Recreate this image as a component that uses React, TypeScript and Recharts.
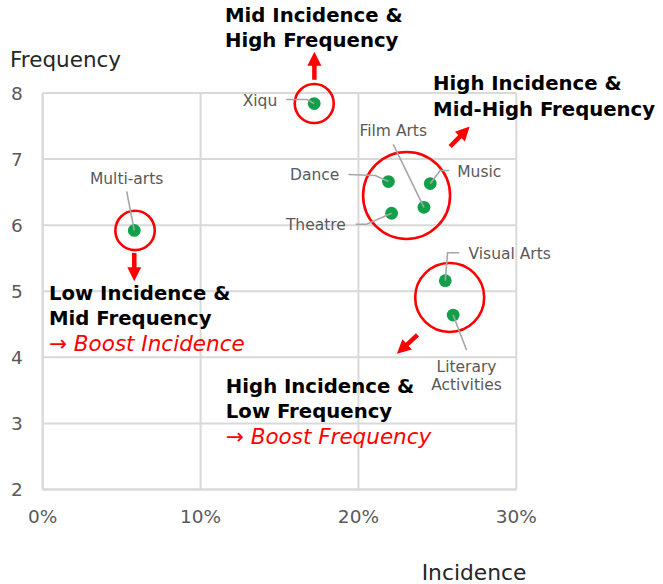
import React from 'react';
import { ScatterChart, Scatter, XAxis, YAxis, CartesianGrid, ReferenceDot, Label } from 'recharts';

// ---- data ----
const categories = ['Xiqu', 'Dance', 'Music', 'Film Arts', 'Theatre', 'Multi-arts', 'Visual Arts', 'Literary Activities'];
const incidence = [17.2, 21.9, 24.55, 24.15, 22.1, 5.8, 25.5, 26.0];
const frequency = [7.84, 6.66, 6.63, 6.27, 6.18, 5.92, 5.16, 4.64];
const xTicks = [0, 10, 20, 30];
const yTicks = [2, 3, 4, 5, 6, 7, 8];

const data = categories.map((name, i) => ({ name, x: incidence[i], y: frequency[i] }));

// ---- annotation layout (pixel offsets relative to each dot) ----
type Lay = { lines: string[]; anchor: 'start' | 'middle' | 'end'; dx: number; dy: number; leader: number[][] };
const labelLayout: Record<string, Lay> = {
  'Xiqu': { lines: ['Xiqu'], anchor: 'end', dx: -37, dy: -3.5, leader: [[-28, -4], [-7, -4]] },
  'Dance': { lines: ['Dance'], anchor: 'end', dx: -49, dy: -7.5, leader: [[-40, -7], [-13, -6]] },
  'Music': { lines: ['Music'], anchor: 'start', dx: 27, dy: -12.6, leader: [[19, -13], [10, -13]] },
  'Film Arts': { lines: ['Film Arts'], anchor: 'middle', dx: -30.7, dy: -76.6, leader: [[-30.7, -63]] },
  'Theatre': { lines: ['Theatre'], anchor: 'end', dx: -45.7, dy: 10.7, leader: [[-36, 11], [-25, 11]] },
  'Multi-arts': { lines: ['Multi-arts'], anchor: 'middle', dx: -7.6, dy: -52.4, leader: [[-7.6, -39]] },
  'Visual Arts': { lines: ['Visual Arts'], anchor: 'start', dx: 23.3, dy: -27.7, leader: [[14, -28], [2.3, -28]] },
  'Literary Activities': { lines: ['Literary', 'Activities'], anchor: 'middle', dx: 13.4, dy: 51, leader: [[13.4, 35]] },
};

// highlight circles (data coords, pixel radius)
const circleX = [17.2, 5.85, 23.05, 25.78];
const circleY = [7.84, 5.92, 6.45, 4.906];
const circleR = [19.5, 19.7, 43.5, 34.5];

// arrows: tail in data coords, vector in px
const arrowX = [17.21, 5.8, 25.81, 23.74];
const arrowY = [8.2, 5.58, 7.19, 4.34];
const arrowVec = [[0, -28], [0, 28.4], [19.5, -20], [-20.6, 19]];

// quadrant text blocks (left x, first baseline y in data coords)
type TL = { t: string; red?: boolean };
const blockX = [11.55, 24.73, 0.4, 11.6];
const blockY = [9.076, 8.04, 4.868, 3.464];
const blockLines: TL[][] = [
  [{ t: 'Mid Incidence &' }, { t: 'High Frequency' }],
  [{ t: 'High Incidence &' }, { t: 'Mid-High Frequency' }],
  [{ t: 'Low Incidence &' }, { t: 'Mid Frequency' }, { t: '\u2192 Boost Incidence', red: true }],
  [{ t: 'High Incidence &' }, { t: 'Low Frequency' }, { t: '\u2192 Boost Frequency', red: true }],
];

const FONT = "'DejaVu Sans', sans-serif";
const GRID = '#d9d9d9';
const GREEN = '#11a04a';
const RED = '#ff0000';

const DotWithLabel = (props: any) => {
  const { cx, cy, payload } = props;
  if (cx == null || cy == null || !payload) return null;
  const lay = labelLayout[payload.name];
  const pts = [...lay.leader, [0, 0]].map(([dx, dy]) => `${cx + dx},${cy + dy}`).join(' ');
  return (
    <g>
      <circle cx={cx} cy={cy} r={6.4} fill={GREEN} />
      <polyline points={pts} fill="none" stroke="#a6a6a6" strokeWidth={1.6} />
      {lay.lines.map((l, i) => (
        <text key={i} x={cx + lay.dx} y={cy + lay.dy + i * 18.3} dy="0.36em" textAnchor={lay.anchor}
          fontFamily={FONT} fontSize={15.5} fill="#595959">{l}</text>
      ))}
    </g>
  );
};

const makeArrow = (vx: number, vy: number) => (p: any) => {
  const { cx, cy } = p;
  if (cx == null || cy == null) return null;
  const len = Math.hypot(vx, vy);
  const ux = vx / len, uy = vy / len;
  const head = Math.min(14, len * 0.5);
  const hw = 7;
  const tx = cx + vx, ty = cy + vy;
  const bx = tx - ux * head, by = ty - uy * head;
  const nx = -uy, ny = ux;
  return (
    <g>
      <line x1={cx} y1={cy} x2={bx + ux * 1} y2={by + uy * 1} stroke={RED} strokeWidth={4.5} />
      <polygon points={`${tx},${ty} ${bx + nx * hw},${by + ny * hw} ${bx - nx * hw},${by - ny * hw}`} fill={RED} />
    </g>
  );
};

const makeBlock = (lines: TL[]) => (p: any) => {
  const { cx, cy } = p;
  if (cx == null || cy == null) return null;
  return (
    <g>
      {lines.map((l, i) => (
        <text key={i} x={cx} y={cy + i * 25.5} fontFamily={FONT}
          fontSize={l.red ? 21.5 : 19.7} fontWeight={l.red ? 400 : 700} fontStyle={l.red ? 'italic' : 'normal'}
          fill={l.red ? RED : '#000'}>{l.t}</text>
      ))}
    </g>
  );
};

const YTitle = (p: any) => {
  const vb = p.viewBox || { x: 0, y: 93 };
  return <text x={vb.x + 10} y={vb.y - 26.5} fontFamily={FONT} fontSize={21.5} fill="#262626">Frequency</text>;
};
const XTitle = (p: any) => {
  const vb = p.viewBox || { x: 43, y: 489.5 };
  return <text x={vb.x + 379} y={vb.y + 90.5} fontFamily={FONT} fontSize={21.8} fill="#262626">Incidence</text>;
};

export default function App() {
  return (
    <div style={{ position: 'absolute', left: 0, top: 0, background: '#fff' }}>
      <ScatterChart width={663} height={584} margin={{ top: 93, right: 146.7, bottom: 64.5, left: 0 }}>
        <CartesianGrid stroke={GRID} strokeWidth={2} />
        <XAxis type="number" dataKey="x" domain={[0, 30]} ticks={xTicks} tickFormatter={(v: number) => `${v}%`}
          height={30} axisLine={{ stroke: GRID, strokeWidth: 2 }} tickLine={false} tickSize={6} tickMargin={14}
          tick={{ fontFamily: FONT, fontSize: 18.5, fill: '#595959' }} interval={0}>
          <Label content={XTitle} />
        </XAxis>
        <YAxis type="number" dataKey="y" domain={[2, 8]} ticks={yTicks} width={42.7}
          axisLine={{ stroke: GRID, strokeWidth: 2 }} tickLine={false} tickSize={6} tickMargin={14}
          tick={{ fontFamily: FONT, fontSize: 18.5, fill: '#595959' }} interval={0}>
          <Label content={YTitle} />
        </YAxis>
        {circleX.map((x, i) => (
          <ReferenceDot key={'c' + i} x={x} y={circleY[i]} r={circleR[i]} fill="none" stroke={RED} strokeWidth={2.6} ifOverflow="visible" />
        ))}
        <Scatter data={data} shape={DotWithLabel} isAnimationActive={false} />
        {arrowX.map((x, i) => (
          <ReferenceDot key={'a' + i} x={x} y={arrowY[i]} r={1} shape={makeArrow(arrowVec[i][0], arrowVec[i][1])} ifOverflow="visible" />
        ))}
        {blockX.map((x, i) => (
          <ReferenceDot key={'b' + i} x={x} y={blockY[i]} r={1} shape={makeBlock(blockLines[i])} ifOverflow="visible" />
        ))}
      </ScatterChart>
    </div>
  );
}
